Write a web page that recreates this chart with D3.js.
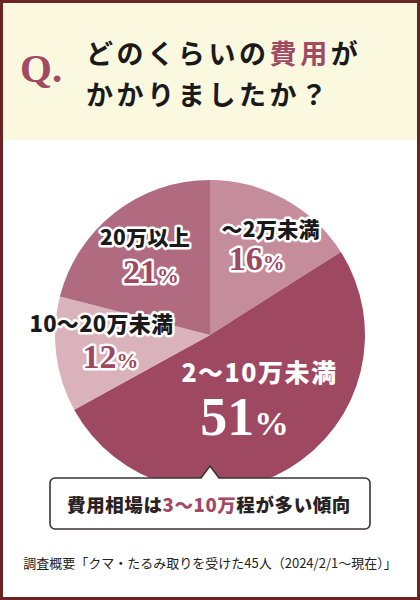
<!DOCTYPE html>
<html>
<head>
<meta charset="utf-8">
<script src="https://cdn.jsdelivr.net/npm/d3@7"></script>
<style>
  html, body { margin: 0; padding: 0; background: #fff; }
  svg { display: block; }
</style>
</head>
<body>
<svg width="420" height="600"></svg>
<script>
// data
var categories = ['〜2万未満', '2〜10万未満', '10〜20万未満', '20万以上'];
var values = [16, 51, 12, 21];
var colors = ['#c58c9c', '#9f4862', '#dab2bc', '#b06b80'];
var titleLines = [['どのくらいの', '費用', 'が'], ['かかりましたか？']];
var noteText = '調査概要「クマ・たるみ取りを受けた45人（2024/2/1〜現在）」';

// label layout per slice: polar anchor (r, angle shift deg), text offsets, sizes
var labelLayout = [
    { r: 101, da: 4, lx: 6, ly: -13, px: -8, py: 20, size: 21, pct: 34, white: false },
    { r: 77, da: -2, lx: 8, ly: -18, px: -7, py: 35, size: 25, pct: 54, white: true },
    { r: 105, da: 2, lx: -4, ly: -13, px: 5, py: 23, size: 22, pct: 34, white: false },
    { r: 99, da: -1, lx: -3, ly: -13, px: 3, py: 25, size: 21, pct: 34, white: false }
];

var svg = d3.select('svg');
var width = 420, height = 600;
var jp = '"Noto Sans CJK JP", "Noto Sans", sans-serif';
var serif = '"Liberation Serif", "DejaVu Serif", serif';

// frame + header
svg.append('rect').attr('x', 0).attr('y', 0).attr('width', width).attr('height', 140).attr('fill', '#fbf8e0');
svg.append('rect').attr('x', 1.5).attr('y', 1.5).attr('width', width - 3).attr('height', height - 3)
    .attr('fill', 'none').attr('stroke', '#6b2323').attr('stroke-width', 3);

svg.append('text')
    .attr('x', 20).attr('y', 82)
    .attr('font-family', serif).attr('font-weight', 700).attr('font-size', 41)
    .attr('fill', '#a04a64')
    .text('Q.');

var title = svg.append('g');
titleLines.forEach((parts, i) => {
    var t = title.append('text')
        .attr('x', 86).attr('y', 64 + i * 41)
        .attr('font-family', jp).attr('font-weight', 700).attr('font-size', 27)
        .attr('letter-spacing', 3.6).attr('fill', '#1a1a1a');
    parts.forEach(p => t.append('tspan')
        .attr('fill', p === '費用' ? '#a04a64' : '#1a1a1a')
        .text(p));
});

// pie
var cx = 210, cy = 335, radius = 155;
var pie = d3.pie().sort(null).value(d => d);
var arc = d3.arc().innerRadius(0).outerRadius(radius);
var arcs = pie(values);

var g = svg.append('g').attr('transform', `translate(${cx},${cy})`);
g.selectAll('path')
    .data(arcs)
    .enter().append('path')
    .attr('d', arc)
    .attr('fill', (d, i) => colors[i]);

var labels = g.selectAll('g.label')
    .data(arcs)
    .enter().append('g')
    .attr('class', 'label')
    .attr('transform', (d, i) => {
        var L = labelLayout[i];
        var a = (d.startAngle + d.endAngle) / 2 + L.da * Math.PI / 180;
        return `translate(${Math.sin(a) * L.r},${-Math.cos(a) * L.r})`;
    });

labels.append('text')
    .attr('text-anchor', 'middle')
    .attr('x', (d, i) => labelLayout[i].lx)
    .attr('y', (d, i) => labelLayout[i].ly)
    .attr('font-family', jp).attr('font-weight', 900)
    .attr('font-size', (d, i) => labelLayout[i].size)
    .attr('letter-spacing', (d, i) => labelLayout[i].white ? 1.5 : 0.3)
    .attr('fill', (d, i) => labelLayout[i].white ? '#fff' : '#1a1a1a')
    .attr('stroke', (d, i) => labelLayout[i].white ? 'none' : '#fff')
    .attr('stroke-width', 5).attr('stroke-linejoin', 'round')
    .attr('paint-order', 'stroke')
    .text((d, i) => categories[i]);

var pct = labels.append('text')
    .attr('text-anchor', 'middle')
    .attr('x', (d, i) => labelLayout[i].px)
    .attr('y', (d, i) => labelLayout[i].py)
    .attr('font-family', serif).attr('font-weight', 700)
    .attr('font-size', (d, i) => labelLayout[i].pct)
    .attr('fill', (d, i) => labelLayout[i].white ? '#fff' : '#9f4862')
    .attr('stroke', (d, i) => labelLayout[i].white ? 'none' : '#fff')
    .attr('stroke-width', 5).attr('stroke-linejoin', 'round')
    .attr('paint-order', 'stroke');
pct.append('tspan').text(d => d.data);
pct.append('tspan').attr('font-size', (d, i) => labelLayout[i].pct * 0.64).text('%');

// callout
var box = { x: 50, y: 478, w: 320, h: 51, r: 5 };
var tipX = 210, tipH = 12, tipW = 9;
var p = d3.path();
p.moveTo(box.x + box.r, box.y);
p.lineTo(tipX - tipW, box.y);
p.lineTo(tipX, box.y - tipH);
p.lineTo(tipX + tipW, box.y);
p.lineTo(box.x + box.w - box.r, box.y);
p.arcTo(box.x + box.w, box.y, box.x + box.w, box.y + box.r, box.r);
p.lineTo(box.x + box.w, box.y + box.h - box.r);
p.arcTo(box.x + box.w, box.y + box.h, box.x + box.w - box.r, box.y + box.h, box.r);
p.lineTo(box.x + box.r, box.y + box.h);
p.arcTo(box.x, box.y + box.h, box.x, box.y + box.h - box.r, box.r);
p.lineTo(box.x, box.y + box.r);
p.arcTo(box.x, box.y, box.x + box.r, box.y, box.r);
p.closePath();
svg.append('path').attr('d', p.toString())
    .attr('fill', '#fff').attr('stroke', '#3b3333').attr('stroke-width', 1.6);

var call = svg.append('text')
    .attr('x', 209).attr('y', 512)
    .attr('text-anchor', 'middle')
    .attr('font-family', jp).attr('font-weight', 900).attr('font-size', 18.5)
    .attr('letter-spacing', 0.6)
    .attr('fill', '#2a2222');
call.append('tspan').text('費用相場は');
call.append('tspan').attr('fill', '#a04a64').text('3〜10万');
call.append('tspan').text('程が多い傾向');

svg.append('text')
    .attr('x', 210).attr('y', 568)
    .attr('text-anchor', 'middle')
    .attr('font-family', jp).attr('font-size', 13)
    .attr('fill', '#222')
    .text(noteText);
</script>
</body>
</html>
